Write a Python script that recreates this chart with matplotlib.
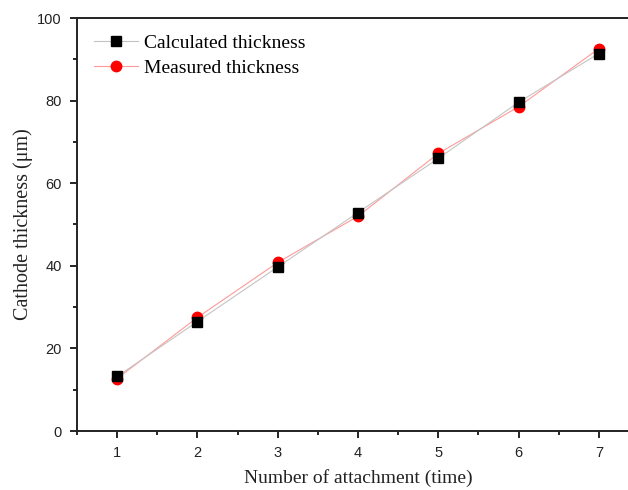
import matplotlib
matplotlib.use("Agg")
import matplotlib.pyplot as plt
from matplotlib.ticker import MultipleLocator

attachments = [1, 2, 3, 4, 5, 6, 7]
calculated = [13.2, 26.5, 39.7, 52.9, 66.0, 79.6, 91.4]
measured = [12.7, 27.5, 40.8, 52.0, 67.2, 78.5, 92.6]

fig = plt.figure(figsize=(6.28, 4.9), dpi=100)
ax = fig.add_axes([77/628, 1-431/490, 562/628, 413/490])

l2, = ax.plot(attachments, measured, color="#ff9999", lw=0.8, marker="o",
              ms=7.5, mfc="red", mec="red", zorder=2, label="Measured thickness")
l1, = ax.plot(attachments, calculated, color="#c4c4c4", lw=0.8, marker="s",
              ms=7, mfc="black", mec="black", zorder=3, label="Calculated thickness")

ax.set_xlim(0.5, 7.5)
ax.set_ylim(0, 100)
ax.xaxis.set_major_locator(MultipleLocator(1))
ax.xaxis.set_minor_locator(MultipleLocator(0.5))
ax.yaxis.set_major_locator(MultipleLocator(20))
ax.yaxis.set_minor_locator(MultipleLocator(10))
ax.tick_params(which="both", direction="out", top=False, right=False, width=1.2)
ax.tick_params(which="major", length=5, labelsize=10.5, pad=6)
ax.tick_params(which="minor", length=3)
for lab in ax.get_xticklabels() + ax.get_yticklabels():
    lab.set_fontfamily("Liberation Sans")
    lab.set_color("#222222")
for s in ax.spines.values():
    s.set_linewidth(1.4)
    s.set_color("#222222")

ax.set_xlabel("Number of attachment (time)", family="Liberation Serif", fontsize=14,
              color="#222222", labelpad=6)
ax.set_ylabel("Cathode thickness (μm)", family="Liberation Serif", fontsize=14.5,
              color="#222222", labelpad=3)

ax.legend(handles=[l1, l2], loc="upper left", frameon=False,
          prop={"family": "Liberation Serif", "size": 14},
          handlelength=2.3, handletextpad=0.3, labelspacing=0.35,
          borderaxespad=0.45, bbox_to_anchor=(0.0, 1.0))

fig.savefig("out.png", dpi=100)
